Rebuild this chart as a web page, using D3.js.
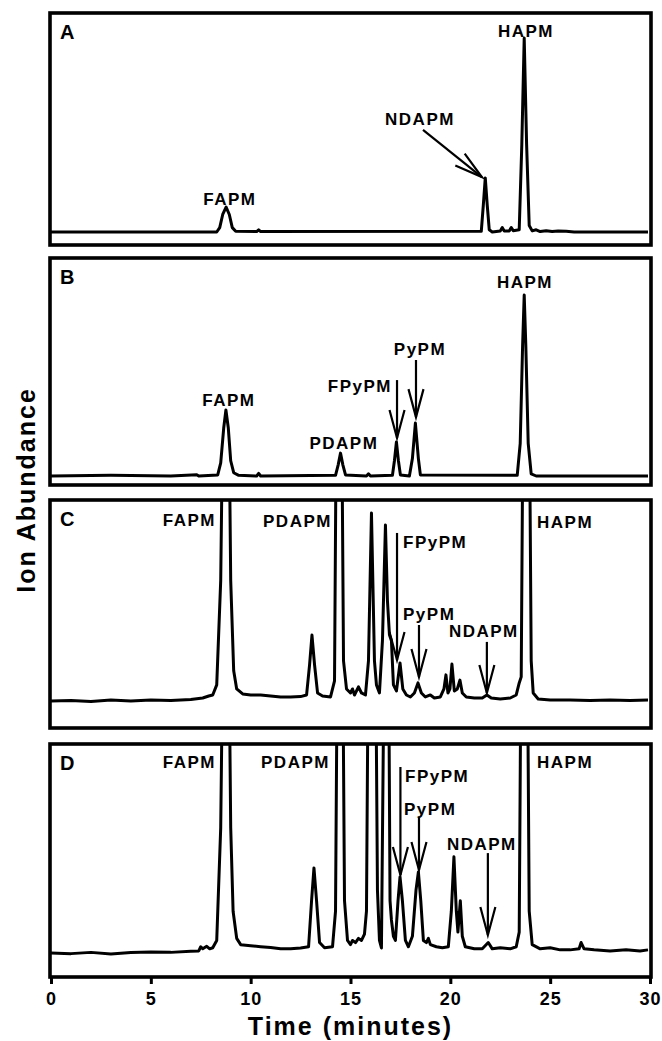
<!DOCTYPE html>
<html>
<head>
<meta charset="utf-8">
<script src="https://cdn.jsdelivr.net/npm/d3@7"></script>
<style>
  body { margin: 0; background: #fff; }
  text { font-family: "Liberation Sans", Arial, sans-serif; font-weight: bold; fill: #000; }
</style>
</head>
<body>
<div id="chart-area"></div>
<script>
// time axis
const timeTicks = [0, 5, 10, 15, 20, 25, 30];
const panelNames = ['A', 'B', 'C', 'D'];

// traces: [time (min), relative abundance], 100 = top of panel
const traceA = [[0,0],[8.3,0],[8.45,2],[8.6,8],[8.77,11.4],[8.93,8],[9.08,2],[9.25,0.3],[10.3,0.2],[10.4,1],[10.5,0.2],
  [21.55,0.3],[21.65,12],[21.75,24.7],[21.85,12],[21.95,1],[22.1,0],[22.5,0.5],[22.6,2],[22.7,0.5],[22.95,0.5],[23.05,2],
  [23.15,0.6],[23.45,1],[23.58,40],[23.7,88.6],[23.82,40],[23.95,3],[24.1,0.5],[24.3,1],[24.5,0.2],[24.8,0.6],[25.1,0.2],
  [25.4,0.5],[25.8,0.3],[26.2,0],[29.9,0]];

const traceB = [[0,0],[3,0.3],[6,0],[7.3,0.6],[7.4,0],[8.35,0.5],[8.5,6],[8.65,22],[8.76,30.3],[8.88,22],[9.0,7],[9.15,1.5],
  [9.4,0.3],[10.3,0],[10.4,1.2],[10.5,0],[14.25,0.3],[14.38,5],[14.5,10.5],[14.62,5],[14.75,0.5],[15.8,0],[15.9,1],[16,0],
  [17.1,0.3],[17.2,7],[17.3,15.6],[17.4,7],[17.5,0.5],[17.95,0],[18.1,8],[18.25,24.3],[18.4,8],[18.5,0.5],[23.35,0.3],
  [23.5,15],[23.62,60],[23.7,83],[23.78,60],[23.9,15],[24.05,1],[24.3,0],[29.9,0]];

const traceC = [[0,0],[1,0.3],[2,-0.3],[3,0.5],[4,0],[5,0.5],[6,0.3],[7,0.8],[7.6,1.5],[7.9,2.5],[8.1,3],[8.3,8],[8.5,60],
  [8.62,160],[8.9,160],[9.0,60],[9.15,15],[9.3,6],[9.6,3.5],[10,3],[10.5,3],[11,2.5],[11.5,2],[12,2],[12.5,2.2],[12.8,3],
  [12.95,18],[13.07,32.8],[13.2,18],[13.35,4],[13.6,2.5],[14.0,2],[14.2,10],[14.3,160],[14.55,160],[14.65,20],[14.8,6],
  [15.0,4],[15.1,6],[15.2,3],[15.4,7],[15.55,4],[15.75,3],[15.9,20],[16.05,93.5],[16.2,20],[16.3,8],[16.45,4],[16.6,30],
  [16.75,87.6],[16.85,50],[16.95,33],[17.05,30],[17.15,8],[17.3,5],[17.48,18.9],[17.62,6],[17.8,3],[18.0,2],[18.2,4],
  [18.38,9],[18.55,4],[18.75,2],[19.0,3],[19.2,1.5],[19.5,2],[19.68,6],[19.78,13],[19.88,4],[19.98,6],[20.08,18.4],
  [20.2,5],[20.35,6],[20.48,10.4],[20.6,4],[20.8,2],[21.2,1.5],[21.6,1.5],[21.83,3],[22.05,1.5],[22.5,1],[23.0,1.5],
  [23.3,3],[23.45,9],[23.55,12],[23.65,160],[23.95,160],[24.05,20],[24.15,4],[24.4,1],[25,0.5],[26,0.5],[27,0.3],
  [28,0.5],[29,0.3],[29.9,0.5]];

const traceD = [[0,0],[1,-0.3],[2,0.3],[3,-0.5],[4,0.2],[5,0.5],[6,0.3],[7,0.8],[7.4,1],[7.5,3],[7.6,2],[7.8,3.2],[7.95,2],
  [8.1,2.5],[8.3,6],[8.5,60],[8.62,160],[8.9,160],[9.0,60],[9.12,20],[9.3,7],[9.5,4],[10,3.5],[10.5,3],[11,2.6],[11.5,2],
  [12,2],[12.5,2.4],[12.9,3],[13.05,25],[13.17,40.7],[13.3,25],[13.45,5],[13.7,2.5],[14.1,3],[14.25,20],[14.35,160],
  [14.6,160],[14.7,25],[14.85,6],[15.0,4],[15.1,6],[15.25,5],[15.4,7],[15.55,6],[15.7,9],[15.8,20],[15.9,160],[16.25,160],
  [16.35,30],[16.45,6],[16.55,2.4],[16.7,160],[16.9,160],[16.98,25],[17.05,15.8],[17.15,8],[17.25,6],[17.38,25],
  [17.48,36.4],[17.6,25],[17.75,6],[17.9,3],[18.1,8],[18.28,30],[18.4,38.8],[18.52,25],[18.65,6],[18.8,5],[18.9,7],
  [19.0,4],[19.3,3],[19.6,2.5],[19.9,3],[20.05,20],[20.18,46],[20.3,20],[20.38,10],[20.5,25],[20.6,8],[20.75,3],
  [21.2,2],[21.6,2],[21.9,5],[22.1,2],[22.5,2.5],[23.0,2],[23.3,3],[23.45,10],[23.55,160],[23.85,160],[23.95,20],
  [24.1,4],[24.5,2],[25,2.5],[25.5,1.5],[26.0,1.5],[26.45,2],[26.55,5],[26.7,2],[27.2,1.5],[28,1],[28.8,1.5],
  [29.5,1],[29.9,1.5]];

// peak labels: anchor time, abundance, text-anchor
const labelsA = [
  {text: 'FAPM', t: 8.96, v: 12.5, anchor: 'middle'},
  {text: 'NDAPM', t: 18.48, v: 49, anchor: 'middle'},
  {text: 'HAPM', t: 23.79, v: 89, anchor: 'middle'}
];
const labelsB = [
  {text: 'FAPM', t: 8.91, v: 32, anchor: 'middle'},
  {text: 'PDAPM', t: 14.67, v: 12.4, anchor: 'middle'},
  {text: 'FPyPM', t: 17.08, v: 38.5, anchor: 'end'},
  {text: 'PyPM', t: 18.48, v: 55.5, anchor: 'middle'},
  {text: 'HAPM', t: 23.74, v: 86.2, anchor: 'middle'}
];
const labelsC = [
  {text: 'FAPM', t: 8.26, v: 87, anchor: 'end'},
  {text: 'PDAPM', t: 14.07, v: 86.6, anchor: 'end'},
  {text: 'FPyPM', t: 17.63, v: 76, anchor: 'start'},
  {text: 'PyPM', t: 17.63, v: 40.3, anchor: 'start'},
  {text: 'NDAPM', t: 21.68, v: 31.8, anchor: 'middle'},
  {text: 'HAPM', t: 24.34, v: 86.1, anchor: 'start'}
];
const labelsD = [
  {text: 'FAPM', t: 8.26, v: 88.5, anchor: 'end'},
  {text: 'PDAPM', t: 13.97, v: 88.5, anchor: 'end'},
  {text: 'FPyPM', t: 17.73, v: 81.8, anchor: 'start'},
  {text: 'PyPM', t: 17.68, v: 66, anchor: 'start'},
  {text: 'NDAPM', t: 21.58, v: 49.3, anchor: 'middle'},
  {text: 'HAPM', t: 24.34, v: 88.5, anchor: 'start'}
];

// arrows: [time, abundance] from -> to (tip)
const arrowsA = [{from: [18.63, 46.6], to: [21.58, 25.1]}];
const arrowsB = [
  {from: [17.33, 44], to: [17.33, 17.4]},
  {from: [18.28, 53.2], to: [18.28, 27]}
];
const arrowsC = [
  {from: [17.33, 83.6], to: [17.33, 20.4]},
  {from: [18.43, 37.8], to: [18.43, 11.9]},
  {from: [21.83, 29.4], to: [21.83, 4]}
];
const arrowsD = [
  {from: [17.5, 89], to: [17.5, 37.3]},
  {from: [18.43, 65], to: [18.43, 39.7]},
  {from: [21.88, 47.8], to: [21.88, 8.6]}
];

const traces = [traceA, traceB, traceC, traceD];
const labels = [labelsA, labelsB, labelsC, labelsD];
const arrows = [arrowsA, arrowsB, arrowsC, arrowsD];

// layout (pixels)
const frames = [
  {top: 13, bottom: 245, base: 232},
  {top: 258, bottom: 485, base: 476},
  {top: 500, bottom: 728, base: 701},
  {top: 744, bottom: 977, base: 953}
];

const svg = d3.select('#chart-area').append('svg')
  .attr('width', 662)
  .attr('height', 1041);

const x = d3.scaleLinear()
  .domain([0, 30])
  .range([51, 650]);

const left = x(0) - 1;
const right = x(30) + 1;

function arrowHead(from, to) {
  const dx = to[0] - from[0];
  const dy = to[1] - from[1];
  const len = Math.sqrt(dx * dx + dy * dy);
  const ux = dx / len, uy = dy / len;
  const L = 29, a = 15 * Math.PI / 180;
  const arm = s => {
    const c = Math.cos(s * a), sn = Math.sin(s * a);
    const rx = ux * c - uy * sn, ry = ux * sn + uy * c;
    return [to[0] - L * rx, to[1] - L * ry];
  };
  const p1 = arm(1), p2 = arm(-1);
  return `M${p1[0]},${p1[1]}L${to[0]},${to[1]}L${p2[0]},${p2[1]}`;
}

frames.forEach((f, i) => {
  const y = d3.scaleLinear()
    .domain([0, 100])
    .range([f.base, f.top]);

  const g = svg.append('g');

  g.append('clipPath')
    .attr('id', 'clip' + i)
    .append('rect')
    .attr('x', left)
    .attr('y', f.top)
    .attr('width', right - left)
    .attr('height', f.bottom - f.top);

  const line = d3.line()
    .x(d => x(d[0]))
    .y(d => y(d[1]));

  g.append('path')
    .datum(traces[i])
    .attr('clip-path', `url(#clip${i})`)
    .attr('fill', 'none')
    .attr('stroke', '#000')
    .attr('stroke-width', 3)
    .attr('stroke-linejoin', 'round')
    .attr('d', line);

  g.append('rect')
    .attr('x', left)
    .attr('y', f.top)
    .attr('width', right - left)
    .attr('height', f.bottom - f.top)
    .attr('fill', 'none')
    .attr('stroke', '#000')
    .attr('stroke-width', 3.6);

  g.append('text')
    .attr('x', left + 10)
    .attr('y', f.top + 26)
    .attr('font-size', '20px')
    .text(panelNames[i]);

  g.selectAll('text.peak')
    .data(labels[i])
    .enter()
    .append('text')
    .attr('class', 'peak')
    .attr('x', d => x(d.t))
    .attr('y', d => y(d.v))
    .attr('text-anchor', d => d.anchor)
    .attr('font-size', '17px')
    .attr('letter-spacing', '1.5px')
    .text(d => d.text);

  arrows[i].forEach(a => {
    const p0 = [x(a.from[0]), y(a.from[1])];
    const p1 = [x(a.to[0]), y(a.to[1])];
    g.append('line')
      .attr('x1', p0[0]).attr('y1', p0[1])
      .attr('x2', p1[0]).attr('y2', p1[1])
      .attr('stroke', '#000')
      .attr('stroke-width', 2.2);
    g.append('path')
      .attr('d', arrowHead(p0, p1))
      .attr('fill', 'none')
      .attr('stroke', '#000')
      .attr('stroke-width', 2.2);
  });
});

const xAxisCall = d3.axisBottom(x)
  .tickValues(timeTicks)
  .tickSize(7)
  .tickSizeOuter(0)
  .tickPadding(8);

const xAxisGroup = svg.append('g')
  .attr('transform', `translate(0, ${frames[3].bottom})`)
  .call(xAxisCall);

xAxisGroup.select('.domain').remove();
xAxisGroup.selectAll('line').attr('stroke-width', 3);
xAxisGroup.selectAll('text')
  .attr('font-size', '18px')
  .attr('font-family', '"Liberation Sans", Arial, sans-serif')
  .attr('font-weight', 'bold')
  .attr('letter-spacing', '1px')
  .attr('fill', '#000');

svg.append('text')
  .attr('x', (x(0) + x(30)) / 2)
  .attr('y', 1035)
  .attr('text-anchor', 'middle')
  .attr('font-size', '25px')
  .attr('letter-spacing', '2px')
  .text('Time (minutes)');

svg.append('text')
  .attr('transform', 'translate(35, 490) rotate(-90)')
  .attr('text-anchor', 'middle')
  .attr('font-size', '25px')
  .attr('letter-spacing', '2px')
  .text('Ion Abundance');
</script>
</body>
</html>
